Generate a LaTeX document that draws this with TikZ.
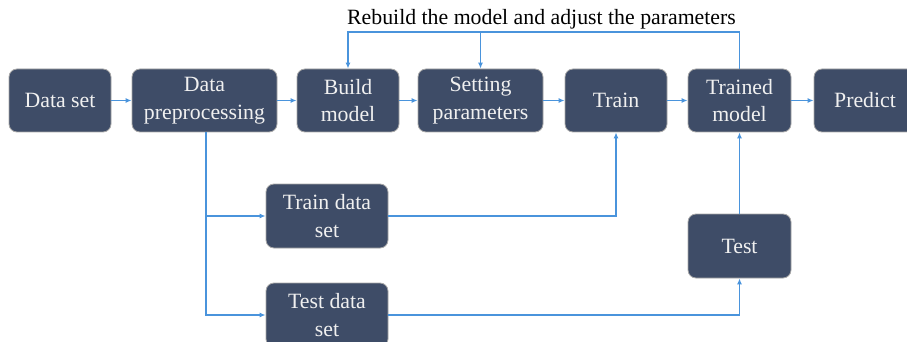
\documentclass[tikz,border=0pt]{standalone}
\usepackage{fontspec}
\setmainfont{Liberation Serif}
\usetikzlibrary{arrows.meta}
\definecolor{boxfill}{HTML}{3E4C67}
\definecolor{boxline}{HTML}{A8A8A8}
\definecolor{arrowc}{HTML}{4A94DC}
\begin{document}
\begin{tikzpicture}[x=1pt,y=-1pt,
  box/.style={draw=boxline, line width=0.8pt, fill=boxfill, rounded corners=8pt,
    text=white!94!black, align=center, font=\fontsize{21.8}{27.5}\selectfont,
    inner sep=0pt, minimum height=63pt},
  conn/.style={draw=arrowc, line width=1.2pt, -{Latex[length=6pt,width=5pt]}}]
\useasboundingbox (0,0) rectangle (907,342);
\clip (0,0) rectangle (907,342);
\node[box, minimum width=102pt] (ds) at (60,100.5) {Data set};
\node[box, minimum width=145pt] (dp) at (204.5,100.5) {Data\\preprocessing};
\node[box, minimum width=102pt] (bm) at (348,100.5) {Build\\model};
\node[box, minimum width=125pt] (sp) at (480.5,100.5) {Setting\\parameters};
\node[box, minimum width=102pt] (tr) at (616,100.5) {Train};
\node[box, minimum width=103pt] (tm) at (739.5,100.5) {Trained\\model};
\node[box, minimum width=102pt] (pr) at (865,100.5) {Predict};
\node[box, minimum width=122pt, minimum height=64pt] (tds) at (327,216) {Train data\\set};
\node[box, minimum width=122pt, minimum height=64pt] (teds) at (327,315) {Test data\\set};
\node[box, minimum width=103pt, minimum height=64pt] (te) at (739.5,246) {Test};
\node[anchor=base, font=\fontsize{21.8}{27.5}\selectfont, inner sep=0pt] (lbl) at (541.5,25) {Rebuild the model and adjust the parameters};
\coordinate (fb) at (739.5,32);
\draw[conn] (ds) -- (dp);
\draw[conn] (dp) -- (bm);
\draw[conn] (bm) -- (sp);
\draw[conn] (sp) -- (tr);
\draw[conn] (tr) -- (tm);
\draw[conn] (tm) -- (pr);
\draw[conn] (tm.north) -- (fb) -| (bm.north);
\draw[conn] (fb -| sp.north) -- (sp.north);
\draw[conn] ([xshift=1.5pt]dp.south) |- (tds.west);
\draw[conn] ([xshift=1.5pt]dp.south) |- (teds.west);
\draw[conn] (tds.east) -| (tr.south);
\draw[conn] (teds.east) -| (te.south);
\draw[conn] (te.north) -- (tm.south);
\end{tikzpicture}
\end{document}
